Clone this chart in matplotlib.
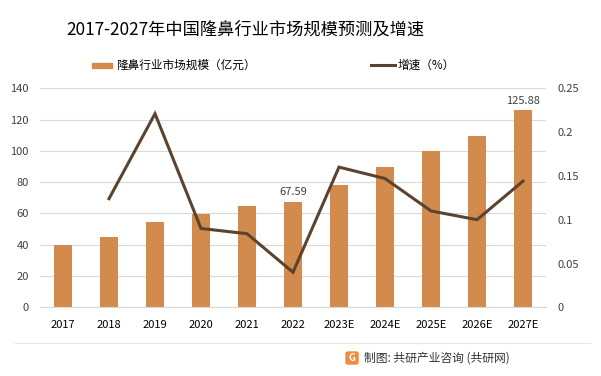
import numpy as np
import matplotlib.pyplot as plt
from matplotlib.patches import FancyBboxPatch

plt.rcParams['font.family'] = ['Noto Sans CJK SC', 'DejaVu Sans']

years = ['2017', '2018', '2019', '2020', '2021', '2022',
         '2023E', '2024E', '2025E', '2026E', '2027E']
market_size = [39.8, 45.0, 54.5, 59.6, 64.8, 67.59, 78.2, 89.7, 99.9, 109.5, 125.88]
growth = [None, 0.124, 0.221, 0.090, 0.084, 0.040, 0.160, 0.147, 0.110, 0.100, 0.144]
labelled = {'2022': '67.59', '2027E': '125.88'}

bar_color = '#D38B4D'
line_color = '#5B4330'
grid_color = '#D9D9D9'
text_color = '#404040'

fig = plt.figure(figsize=(6.01, 3.76), dpi=100, facecolor='white')
ax = fig.add_axes([40 / 601, 1 - 307.3 / 376, 506 / 601, 219 / 376])
ax2 = ax.twinx()

x = np.arange(len(years))
ax.bar(x, market_size, width=0.41, color=bar_color, zorder=2,
       label='隆鼻行业市场规模（亿元）')
for i, y in enumerate(years):
    if y in labelled:
        ax.text(x[i], market_size[i] + 3, labelled[y], ha='center', va='bottom',
                fontsize=8, color=text_color)

gx = [i for i, g in enumerate(growth) if g is not None]
gy = [g for g in growth if g is not None]
ax2.plot(gx, gy, color=line_color, lw=2.2, solid_joinstyle='miter', zorder=3)

ax.set_xlim(-0.5, len(years) - 0.5)
ax.set_ylim(0, 140)
ax.set_yticks(range(0, 141, 20))
ax2.set_ylim(0, 0.25)
ax2.set_yticks([0, 0.05, 0.1, 0.15, 0.2, 0.25])
ax2.set_yticklabels(['0', '0.05', '0.1', '0.15', '0.2', '0.25'])
ax.set_xticks(x)
ax.set_xticklabels(years)

ax.yaxis.grid(True, color=grid_color, lw=0.8, zorder=0)
ax.set_axisbelow(True)
for a in (ax, ax2):
    for s in a.spines.values():
        s.set_visible(False)
    a.tick_params(length=0, labelsize=8, colors=text_color)
ax.spines['bottom'].set_visible(True)
ax.spines['bottom'].set_color(grid_color)
ax.tick_params(axis='x', pad=9, colors='black')
ax.tick_params(axis='y', pad=8)
ax2.tick_params(axis='y', pad=8)

fig.text(245 / 601, 1 - 30 / 376, '2017-2027年中国隆鼻行业市场规模预测及增速',
         ha='center', va='center', fontsize=12.4, color='black')

# legend
fig.patches.append(plt.Rectangle((92 / 601, 1 - 68 / 376), 20 / 601, 5 / 376,
                                 transform=fig.transFigure, color=bar_color))
fig.text(116 / 601, 1 - 65 / 376, '隆鼻行业市场规模（亿元）', ha='left', va='center',
         fontsize=8.4, color='black')
fig.lines.append(plt.Line2D([371 / 601, 395 / 601], [1 - 65 / 376, 1 - 65 / 376],
                            transform=fig.transFigure, color=line_color, lw=2.2))
fig.text(398 / 601, 1 - 65 / 376, '增速（%）', ha='left', va='center',
         fontsize=8.4, color='black')

# footer
fig.lines.append(plt.Line2D([15 / 601, 590 / 601], [1 - 343 / 376, 1 - 343 / 376],
                            transform=fig.transFigure, color='#E6E6E6', lw=0.8))
fig.patches.append(FancyBboxPatch((346 / 601, 1 - 364 / 376), 12 / 601, 12 / 376,
                                  boxstyle='round,pad=0,rounding_size=0.004',
                                  transform=fig.transFigure, color='#F08C3C'))
fig.text(352 / 601, 1 - 358 / 376, 'G', ha='center', va='center', fontsize=7,
         color='white', fontweight='bold')
fig.text(364 / 601, 1 - 358 / 376, '制图: 共研产业咨询 (共研网)', ha='left',
         va='center', fontsize=8.5, color='#333333')

fig.savefig('out.png', dpi=100, facecolor='white')
